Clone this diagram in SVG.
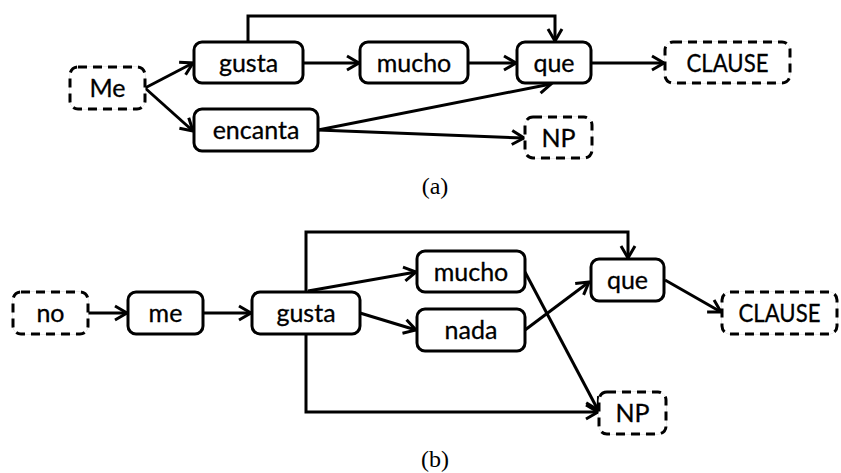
<svg xmlns="http://www.w3.org/2000/svg" width="841" height="473" viewBox="0 0 841 473">
  <style>
    .box { fill: #fff; stroke: #000; stroke-width: 3; }
    .dash { fill: #fff; stroke: #000; stroke-width: 3; stroke-dasharray: 9 6; }
    .ghost { fill: none; stroke: #d8d8d8; stroke-width: 1; }
    .lbl { font-family: Lato, "Liberation Sans", sans-serif; font-size: 25px; text-anchor: middle; fill: #000; stroke: #000; stroke-width: 0.3; }
    .cap { font-family: "Liberation Serif", "DejaVu Serif", serif; font-size: 24px; text-anchor: middle; fill: #000; }
    .edge { fill: none; stroke: #000; stroke-width: 3; marker-end: url(#arr); }
  </style>
  <defs>
    <marker id="arr" viewBox="0 0 18 18" refX="14" refY="9" markerWidth="18" markerHeight="18" markerUnits="userSpaceOnUse" orient="auto">
      <path d="M2,2 L14,9 L2,16" fill="none" stroke="#000" stroke-width="3" stroke-linejoin="miter"/>
    </marker>
  </defs>

  <!-- (a) connectors -->
  <g id="edges-a">
    <path class="edge" d="M145,88 L193,63"/>
    <path class="edge" d="M145,88 L193,131"/>
    <path class="edge" d="M303,63 L359,63"/>
    <path class="edge" d="M468,63 L516,63"/>
    <path class="edge" d="M591,63 L664,63"/>
    <path class="edge" d="M248,42 V16 H555 V41"/>
    <path class="edge" d="M318,130 L551,84"/>
    <path class="edge" d="M318,130 L524,138"/>
  </g>

  <!-- (a) nodes -->
  <g id="a-me"><rect class="ghost" x="70" y="67" width="75" height="42" rx="8"/><rect class="dash" x="70" y="67" width="75" height="42" rx="8"/><text class="lbl" x="107.5" y="97">Me</text></g>
  <g id="a-gusta"><rect class="box" x="194" y="42" width="109" height="41" rx="8"/><text class="lbl" x="248.5" y="72">gusta</text></g>
  <g id="a-encanta"><rect class="box" x="194" y="109" width="124" height="42" rx="8"/><text class="lbl" x="256" y="139">encanta</text></g>
  <g id="a-mucho"><rect class="box" x="360" y="42" width="108" height="41" rx="8"/><text class="lbl" x="414" y="72">mucho</text></g>
  <g id="a-que"><rect class="box" x="517" y="42" width="74" height="41" rx="8"/><text class="lbl" x="554" y="72">que</text></g>
  <g id="a-clause"><rect class="ghost" x="665" y="42" width="125" height="41" rx="8"/><rect class="dash" x="665" y="42" width="125" height="41" rx="8"/><text class="lbl" x="727.5" y="72" textLength="82" lengthAdjust="spacingAndGlyphs">CLAUSE</text></g>
  <g id="a-np"><rect class="ghost" x="525" y="117" width="67" height="41" rx="8"/><rect class="dash" x="525" y="117" width="67" height="41" rx="8"/><text class="lbl" x="558.5" y="147">NP</text></g>
  <text class="cap" x="435" y="194">(a)</text>

  <!-- (b) connectors -->
  <g id="edges-b">
    <path class="edge" d="M88,313 L127,313"/>
    <path class="edge" d="M203,313 L251,313"/>
    <path class="edge" d="M306,292 V232 H628 V258"/>
    <path class="edge" d="M306,334 V412 H598"/>
    <path class="edge" d="M308,291 L416,272"/>
    <path class="edge" d="M360,313 L416,330"/>
    <path class="edge" d="M525,272 L598,410"/>
    <path class="edge" d="M525,330 L589,282"/>
    <path class="edge" d="M665,280 L721,312"/>
  </g>

  <!-- (b) nodes -->
  <g id="b-no"><rect class="ghost" x="13" y="292" width="75" height="42" rx="8"/><rect class="dash" x="13" y="292" width="75" height="42" rx="8"/><text class="lbl" x="50.5" y="322">no</text></g>
  <g id="b-me"><rect class="box" x="128" y="292" width="75" height="42" rx="8"/><text class="lbl" x="165.5" y="322">me</text></g>
  <g id="b-gusta"><rect class="box" x="252" y="292" width="108" height="42" rx="8"/><text class="lbl" x="306" y="322">gusta</text></g>
  <g id="b-mucho"><rect class="box" x="417" y="251" width="108" height="41" rx="8"/><text class="lbl" x="471" y="281">mucho</text></g>
  <g id="b-nada"><rect class="box" x="417" y="309" width="108" height="42" rx="8"/><text class="lbl" x="471" y="339">nada</text></g>
  <g id="b-que"><rect class="box" x="591" y="259" width="73" height="42" rx="8"/><text class="lbl" x="627.5" y="289">que</text></g>
  <g id="b-clause"><rect class="ghost" x="722" y="292" width="115" height="42" rx="8"/><rect class="dash" x="722" y="292" width="115" height="42" rx="8"/><text class="lbl" x="779.5" y="322" textLength="82" lengthAdjust="spacingAndGlyphs">CLAUSE</text></g>
  <g id="b-np"><rect class="ghost" x="599" y="392" width="67" height="42" rx="8"/><rect class="dash" x="599" y="392" width="67" height="42" rx="8"/><text class="lbl" x="632.5" y="422">NP</text></g>
  <text class="cap" x="435" y="467">(b)</text>
</svg>
